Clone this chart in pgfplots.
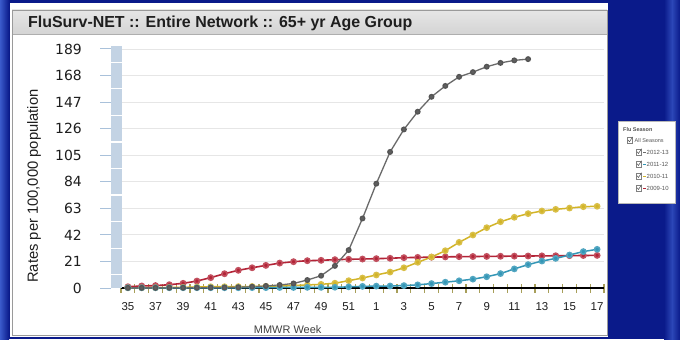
\documentclass[border=0pt]{standalone}
\usepackage{pgfplots}
\pgfplotsset{compat=1.18}
\usepackage{fontspec}
\setmainfont{Liberation Sans}
\newfontfamily\dejavu{DejaVu Sans}
\definecolor{bgblue}{HTML}{0A1A8A}
\definecolor{stripe}{HTML}{3A5ACB}
\definecolor{titletop}{HTML}{E6E6E6}
\definecolor{titlebot}{HTML}{D4D4D4}
\definecolor{bordergray}{HTML}{9A9A9A}
\definecolor{gridgray}{HTML}{E6E6E6}
\definecolor{tickblue}{HTML}{A9C1DA}
\definecolor{barblue}{HTML}{C3D3E4}
\definecolor{olivetick}{HTML}{A89F5A}
\definecolor{sgray}{HTML}{6A6A6A}
\definecolor{steal}{HTML}{3396B6}
\definecolor{syellow}{HTML}{D2B428}
\definecolor{sred}{HTML}{B32437}
\definecolor{txt}{HTML}{1E1E1E}
\definecolor{legtxt}{HTML}{555555}

\pgfplotstableread{
x y
0 1.0
1 1.6
2 1.9
3 2.6
4 3.7
5 5.5
6 8.2
7 11.3
8 14.0
9 16.0
10 17.9
11 19.7
12 20.8
13 21.6
14 21.9
15 22.4
16 22.7
17 22.9
18 23.2
19 23.5
20 24.0
21 24.2
22 24.4
23 24.6
24 24.8
25 24.9
26 25.0
27 25.1
28 25.2
29 25.3
30 25.4
31 25.5
32 25.6
33 25.7
34 25.8
}\redtab

\pgfplotstableread{
x y
0 0.2
1 0.2
2 0.3
3 0.4
4 0.5
5 0.8
6 1.0
7 1.0
8 1.1
9 1.2
10 1.3
11 1.5
12 2.0
13 2.4
14 2.9
15 3.8
16 5.8
17 7.9
18 10.3
19 12.6
20 16.0
21 20.3
22 24.5
23 29.5
24 36.1
25 41.9
26 47.7
27 52.4
28 55.9
29 58.8
30 60.9
31 62.2
32 63.2
33 64.3
34 64.6
}\yellowtab

\pgfplotstableread{
x y
0 0.2
1 0.2
2 0.2
3 0.2
4 0.2
5 0.2
6 0.2
7 0.2
8 0.2
9 0.3
10 0.3
11 0.4
12 0.4
13 0.5
14 0.5
15 0.6
16 0.9
17 1.3
18 1.5
19 1.6
20 1.9
21 2.5
22 3.5
23 4.6
24 5.7
25 7.0
26 8.9
27 11.4
28 15.1
29 18.5
30 21.3
31 23.4
32 26.1
33 28.8
34 30.6
}\tealtab

\pgfplotstableread{
x y
0 0.1
1 0.1
2 0.1
3 0.2
4 0.2
5 0.2
6 0.3
7 0.4
8 0.6
9 1.0
10 1.6
11 2.4
12 3.6
13 6.3
14 9.7
15 17.5
16 30.0
17 55.0
18 82.5
19 107.6
20 125.4
21 139.4
22 151.2
23 159.8
24 167.0
25 170.7
26 175.0
27 178.0
28 180.0
29 181.0
}\graytab

\begin{document}
\begin{tikzpicture}[x=1bp,y=1bp]
\useasboundingbox (0,0) rectangle (680,339);
\begin{scope}[shift={(0,339)}, y=-1bp]
\fill[bgblue] (0,0) rectangle (680,339);
\fill[left color=stripe, right color=bgblue] (0,0) rectangle (9,339);
\fill[left color=bgblue, right color=stripe!70!bgblue] (664,0) rectangle (672,339);
\fill[left color=stripe!70!bgblue, right color=bgblue] (672,0) rectangle (680,339);
\fill[white] (10,3) rectangle (608,337);
\fill[top color=titletop, bottom color=titlebot] (12,10) rectangle (607,34);
\draw[bordergray, line width=0.9bp] (12.5,10.5) rectangle (607,335.5);
\draw[bordergray!80, line width=0.8bp] (12.5,34) -- (607,34);
\node[anchor=base west, inner sep=0pt, text=txt, font=\bfseries\fontsize{16}{16}\selectfont] at (28,27.5) {FluSurv-NET :: Entire Network :: 65+ yr Age Group};
\end{scope}

\begin{axis}[
  at={(121bp,51bp)}, anchor=south west,
  scale only axis, width=483bp, height=242.8bp,
  xmin=-0.5, xmax=34.5, ymin=0, ymax=192,
  axis x line*=bottom, axis y line*=left,
  x axis line style={black, line width=1.3bp, -},
  y axis line style={draw=none},
  tick align=center,
  major tick length=0pt,
  minor tick length=9bp,
  minor xtick={-0.5,0.5,...,34.5},
  minor tick style={olivetick, line width=1.1bp},
  xtick={0,2,...,34},
  xticklabels={35,37,39,41,43,45,47,49,51,1,3,5,7,9,11,13,15,17},
  ytick={0,21,...,189},
  ymajorgrids,
  major grid style={gridgray, line width=0.9bp},
  /pgf/number format/assume math mode=true,
  xticklabel style={inner sep=0pt, anchor=north, yshift=-14.5bp, text=txt, font=\fontsize{11.5}{11.5}\selectfont},
  yticklabel style={inner sep=0pt, anchor=east, xshift=-39bp, text=txt, font=\dejavu\fontsize{14}{14}\selectfont},
  xlabel={MMWR Week},
  xlabel style={at={(axis description cs:0.345,-0.173)}, anchor=center, inner sep=0pt, text=txt!85, font=\fontsize{11}{11}\selectfont},
  ylabel={Rates per 100,000 population},
  ylabel style={at={(axis description cs:-0.180,0.42)}, anchor=center, inner sep=0pt, text=txt, font=\fontsize{14.8}{14.8}\selectfont},
  clip=false,
]
\addplot[sred, line width=1.6bp, mark=*, mark size=2.6bp, mark options={fill=sred, draw=sred!80}] table[x=x,y=y] {\redtab};
\addplot[syellow, line width=1.5bp, mark=*, mark size=2.6bp, mark options={fill=syellow, draw=syellow!85}] table[x=x,y=y] {\yellowtab};
\addplot[steal, line width=1.5bp, mark=*, mark size=2.6bp, mark options={fill=steal, draw=steal!85}] table[x=x,y=y] {\tealtab};
\addplot[sgray, line width=1.3bp, mark=*, mark size=2.3bp, mark options={fill=sgray!90!black, draw=sgray!80!black}] table[x=x,y=y] {\graytab};
\end{axis}

\begin{scope}[shift={(0,339)}, y=-1bp]
% decorative bar at the left of the plot area
\fill[barblue] (111,46) rectangle (122,288);
\foreach \v in {10.5,31.5,...,178.5} {
  \draw[white, line width=1.2bp] (111,{288-\v*1.26455}) -- (122,{288-\v*1.26455});
}
\foreach \v in {0,21,...,189} {
  \draw[tickblue, line width=1bp] (100,{288-\v*1.26455}) -- (111,{288-\v*1.26455});
}
% legend panel
\draw[bordergray!70, fill=white, line width=0.6bp] (618,121) rectangle (675,203);
\node[anchor=west, inner sep=0pt, text=legtxt, font=\bfseries\fontsize{5.5}{5.5}\selectfont] at (623,130) {Flu Season};
\draw[gray, fill=white, line width=0.4bp] (627,137.5) rectangle (632.5,143);
\draw[legtxt, line width=0.5bp] (628,140) -- (629.5,141.8) -- (632.5,137);
\node[anchor=west, inner sep=0pt, text=legtxt, font=\fontsize{5.5}{5.5}\selectfont] at (634.5,140.3) {All Seasons};
\foreach \yy/\cc/\tt in {152/sgray/2012-13,164/steal/2011-12,176/syellow/2010-11,188/sred/2009-10} {
  \draw[gray, fill=white, line width=0.4bp] (636,\yy-2.7) rectangle (641.5,\yy+2.7);
  \draw[legtxt, line width=0.5bp] (637,\yy-0.3) -- (638.5,\yy+1.5) -- (641.5,\yy-3.3);
  \draw[\cc, line width=0.9bp] (643,\yy) -- (646,\yy);
  \node[anchor=west, inner sep=0pt, text=legtxt, font=\fontsize{6}{6}\selectfont] at (646.5,\yy+0.3) {\tt};
}
\end{scope}
\end{tikzpicture}
\end{document}
